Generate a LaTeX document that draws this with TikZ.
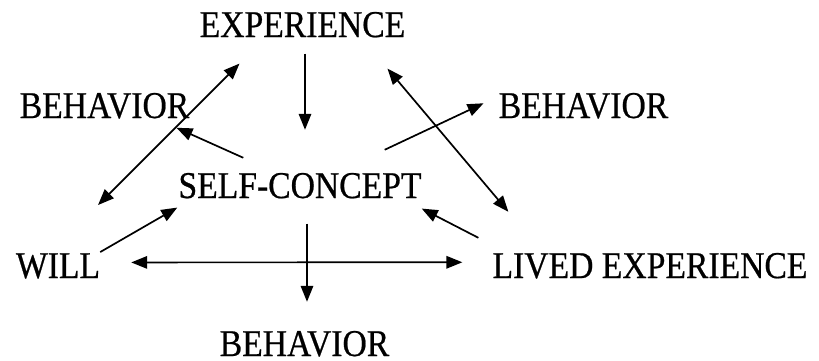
\documentclass[tikz,border=0pt]{standalone}
\usepackage{fontspec}
\setmainfont{Liberation Serif}[FakeStretch=0.89,FakeBold=0.6]
\usetikzlibrary{arrows.meta,calc}
\tikzset{
  lbl/.style={inner sep=0pt, anchor=base, font=\fontsize{37.8}{40}\selectfont},
  arr/.style={line width=1.7pt, -{Triangle[length=16pt,width=12.5pt]}},
  darr/.style={line width=1.7pt, {Triangle[length=16pt,width=12.5pt]}-{Triangle[length=16pt,width=12.5pt]}}
}
\begin{document}
\begin{tikzpicture}[x=1pt,y=-1pt]
\useasboundingbox (0,0) rectangle (819,360);
\node[lbl] (exp) at (302.5,37) {EXPERIENCE};
\node[lbl] (behL) at (104.5,118) {BEHAVIOR};
\node[lbl] (behR) at (583.5,118) {BEHAVIOR};
\node[lbl] (sc) at (300,198) {SELF-CONCEPT};
\node[lbl] (will) at (58,278) {WILL};
\node[lbl] (lived) at (650,278) {LIVED EXPERIENCE};
\node[lbl] (behB) at (304.5,356) {BEHAVIOR};
% arrows
\draw[arr] ($(exp.south)+(2.5,16)$) -- ($(sc.north)+(5,-43)$);
\draw[darr] ($(will.north)+(40,-48)$) -- ($(exp.south west)+(40,26)$);
\draw[arr] ($(sc.north west)+(65,-15)$) -- ($(behL.south east)+(-13,9)$);
\draw[arr] ($(sc.north east)+(-37,-23)$) -- ($(behR.west)+(-15,-2.5)$);
\draw[darr] ($(exp.south east)+(-18,31)$) -- ($(lived.north west)+(16,-41)$);
\draw[arr] ($(will.north east)+(0,-1)$) -- ($(sc.south west)+(-1,9)$);
\draw[arr] ($(lived.north west)+(-14,-15)$) -- ($(sc.south east)+(0,10)$);
\draw[darr] ($(will.east)+(31,-3.5)$) -- ($(lived.west)+(-30,-3.5)$);
\draw[arr] ($(sc.south)+(7,25)$) -- ($(behB.north)+(2.5,-29)$);
\end{tikzpicture}
\end{document}
